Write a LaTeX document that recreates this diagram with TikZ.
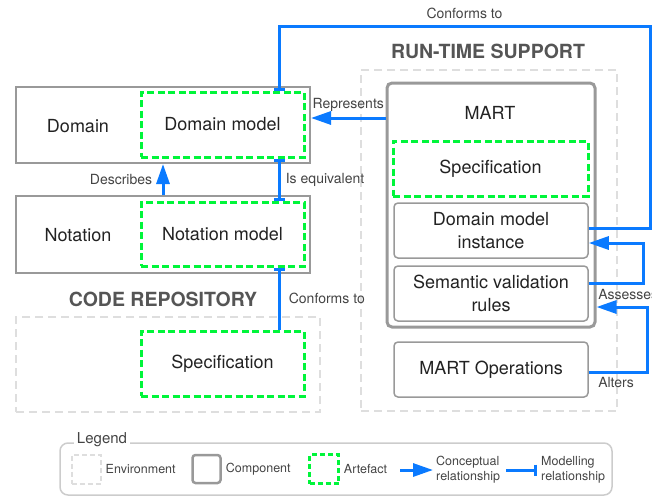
\documentclass[tikz,border=0pt]{standalone}
\usepackage{fontspec}
\setmainfont{TeX Gyre Heros}
\usetikzlibrary{arrows.meta,positioning}
\definecolor{relblue}{HTML}{0A7AFF}
\definecolor{artgreen}{HTML}{00F53A}
\definecolor{envgray}{HTML}{DEDEDE}
\definecolor{compgray}{HTML}{999999}
\definecolor{legendgray}{HTML}{CCCCCC}
\definecolor{txtdark}{HTML}{222222}
\definecolor{titlegray}{HTML}{555555}
\definecolor{lblgray}{HTML}{444444}

\begin{document}
\begin{tikzpicture}[
            x=1pt, y=-1pt,
            every node/.style={text=txtdark, font=\fontsize{18}{23}\selectfont, align=center},
            env/.style={rectangle, draw=envgray, line width=2.5pt, dash pattern=on 8pt off 5pt},
            comp/.style={rectangle, draw=compgray, line width=2pt},
            subcomp/.style={rectangle, rounded corners=4pt, draw=compgray, line width=1.5pt, minimum width=194pt, minimum height=55pt},
            artefact/.style={rectangle, draw=artgreen, line width=3pt, dash pattern=on 7pt off 3.5pt},
            title/.style={text=titlegray, font=\fontsize{19.5}{23}\selectfont\bfseries},
            lbl/.style={text=lblgray, font=\fontsize{14}{16}\selectfont},
            legtxt/.style={text=lblgray, font=\fontsize{12.5}{15}\selectfont, align=left, inner sep=1pt},
            concept/.style={draw=relblue, line width=3pt, -{Triangle[length=20pt,width=13pt]}},
            modelrel/.style={draw=relblue, line width=3pt, -{Bar[width=11pt]}}
        ]
        \useasboundingbox (0,0) rectangle (652,498);

        % environments
        \node[env, minimum width=304pt, minimum height=95pt] (coderepo) at (168,364.5) {};
        \node[env, minimum width=256pt, minimum height=341pt] (runtime) at (489,240.5) {};
        \node[title] (codetitle) at (163,299) {CODE REPOSITORY};
        \node[title] (rttitle) at (488,51) {RUN-TIME SUPPORT};

        % domain and notation
        \node[comp, minimum width=294pt, minimum height=76pt] (domain) at (163,125) {};
        \node (domaintxt) at (78,126) {Domain};
        \node[artefact, minimum width=163pt, minimum height=65pt] (dommodel) at (222.5,124.5) {Domain model};
        \node[comp, minimum width=294pt, minimum height=77pt] (notation) at (163,234.5) {};
        \node (notationtxt) at (78,235) {Notation};
        \node[artefact, minimum width=163pt, minimum height=64pt] (notmodel) at (222.5,234) {Notation model};
        \node[artefact, minimum width=163pt, minimum height=65pt] (codespec) at (222.5,363.5) {Specification};

        % MART
        \node[comp, rounded corners=5pt, line width=3pt, minimum width=208pt, minimum height=244pt] (mart) at (491,205) {};
        \node (marttxt) at (490,113) {MART};
        \node[artefact, minimum width=195pt, minimum height=55pt] (martspec) at (490.5,168.5) {Specification};
        \node[subcomp] (dminst) at (491,230.5) {Domain model\\instance};
        \node[subcomp] (semrules) at (491,293.5) {Semantic validation\\rules};
        \node[subcomp] (martops) at (491,369.5) {MART Operations};

        \coordinate (repy) at ([yshift=7pt]domain.east);
        \coordinate (confcorner) at (650,26);
        \coordinate (altend) at (mart.east |- semrules.east);

        \draw[concept] (mart.west |- repy) -- (repy) node[lbl, midway, above=2pt] {Represents};
        \draw[concept] (notation.north) -- (domain.south) node[lbl, midway, left=6pt] {Describes};
        \draw[modelrel, {Bar[width=11pt]}-{Bar[width=11pt]}] ([xshift=56.5pt]dommodel.south) -- ([xshift=56.5pt]notmodel.north) node[lbl, midway, right=2pt] {Is equivalent};
        \draw[modelrel] ([xshift=56.5pt]codespec.north) -- ([xshift=56.5pt]notmodel.south) node[lbl, midway, right=5pt] {Conforms to};
        \draw[modelrel] ([yshift=2.5pt]dminst.east) -| (confcorner) -| ([xshift=56.5pt]dommodel.north) node[lbl, pos=0.25, above=2pt] {Conforms to};
        \draw[concept] ([yshift=10.5pt]semrules.east) -- ++(55,0) node[lbl, pos=0, anchor=north west, inner sep=0pt, xshift=8pt, yshift=-5pt] {Assesses} |- ([yshift=-12.5pt]dminst.east);
        \draw[concept] ([yshift=-2.5pt]martops.east) -- ++(59,0) node[lbl, pos=0, anchor=north west, inner sep=0pt, xshift=8pt, yshift=-4pt] {Alters} |- ([yshift=-13.5pt]altend);

        % legend
        \node[draw=legendgray, line width=1.5pt, rounded corners=8pt, minimum width=552pt, minimum height=52pt] (legend) at (336,469) {};
        \node[fill=white, text=lblgray, font=\fontsize{15}{18}\selectfont, inner sep=3pt] (legendtxt) at (102,440) {Legend};
        \node[env, line width=2pt, dash pattern=on 5pt off 3pt, minimum size=29pt] (lgenv) at (86,469) {};
        \node[legtxt, right=3pt of lgenv] (lgenvtxt) {Environment};
        \node[comp, rounded corners=3pt, line width=2.5pt, minimum size=28pt] (lgcomp) at (206.5,469) {};
        \node[legtxt, right=3pt of lgcomp] (lgcomptxt) {Component};
        \node[artefact, line width=2.5pt, dash pattern=on 5pt off 3pt, minimum size=29pt] (lgart) at (324,469) {};
        \node[legtxt, right=3pt of lgart] (lgarttxt) {Artefact};
        \coordinate (lgconca) at (400,470);
        \coordinate (lgconcb) at (433,470);
        \draw[concept] (lgconca) -- (lgconcb);
        \node[legtxt, right=2pt of lgconcb] (lgconctxt) {Conceptual\\relationship};
        \coordinate (lgmoda) at (506,470);
        \coordinate (lgmodb) at (537,470);
        \draw[modelrel] (lgmoda) -- (lgmodb);
        \node[legtxt, right=3pt of lgmodb] (lgmodtxt) {Modelling\\relationship};

        \end{tikzpicture}
\end{document}
